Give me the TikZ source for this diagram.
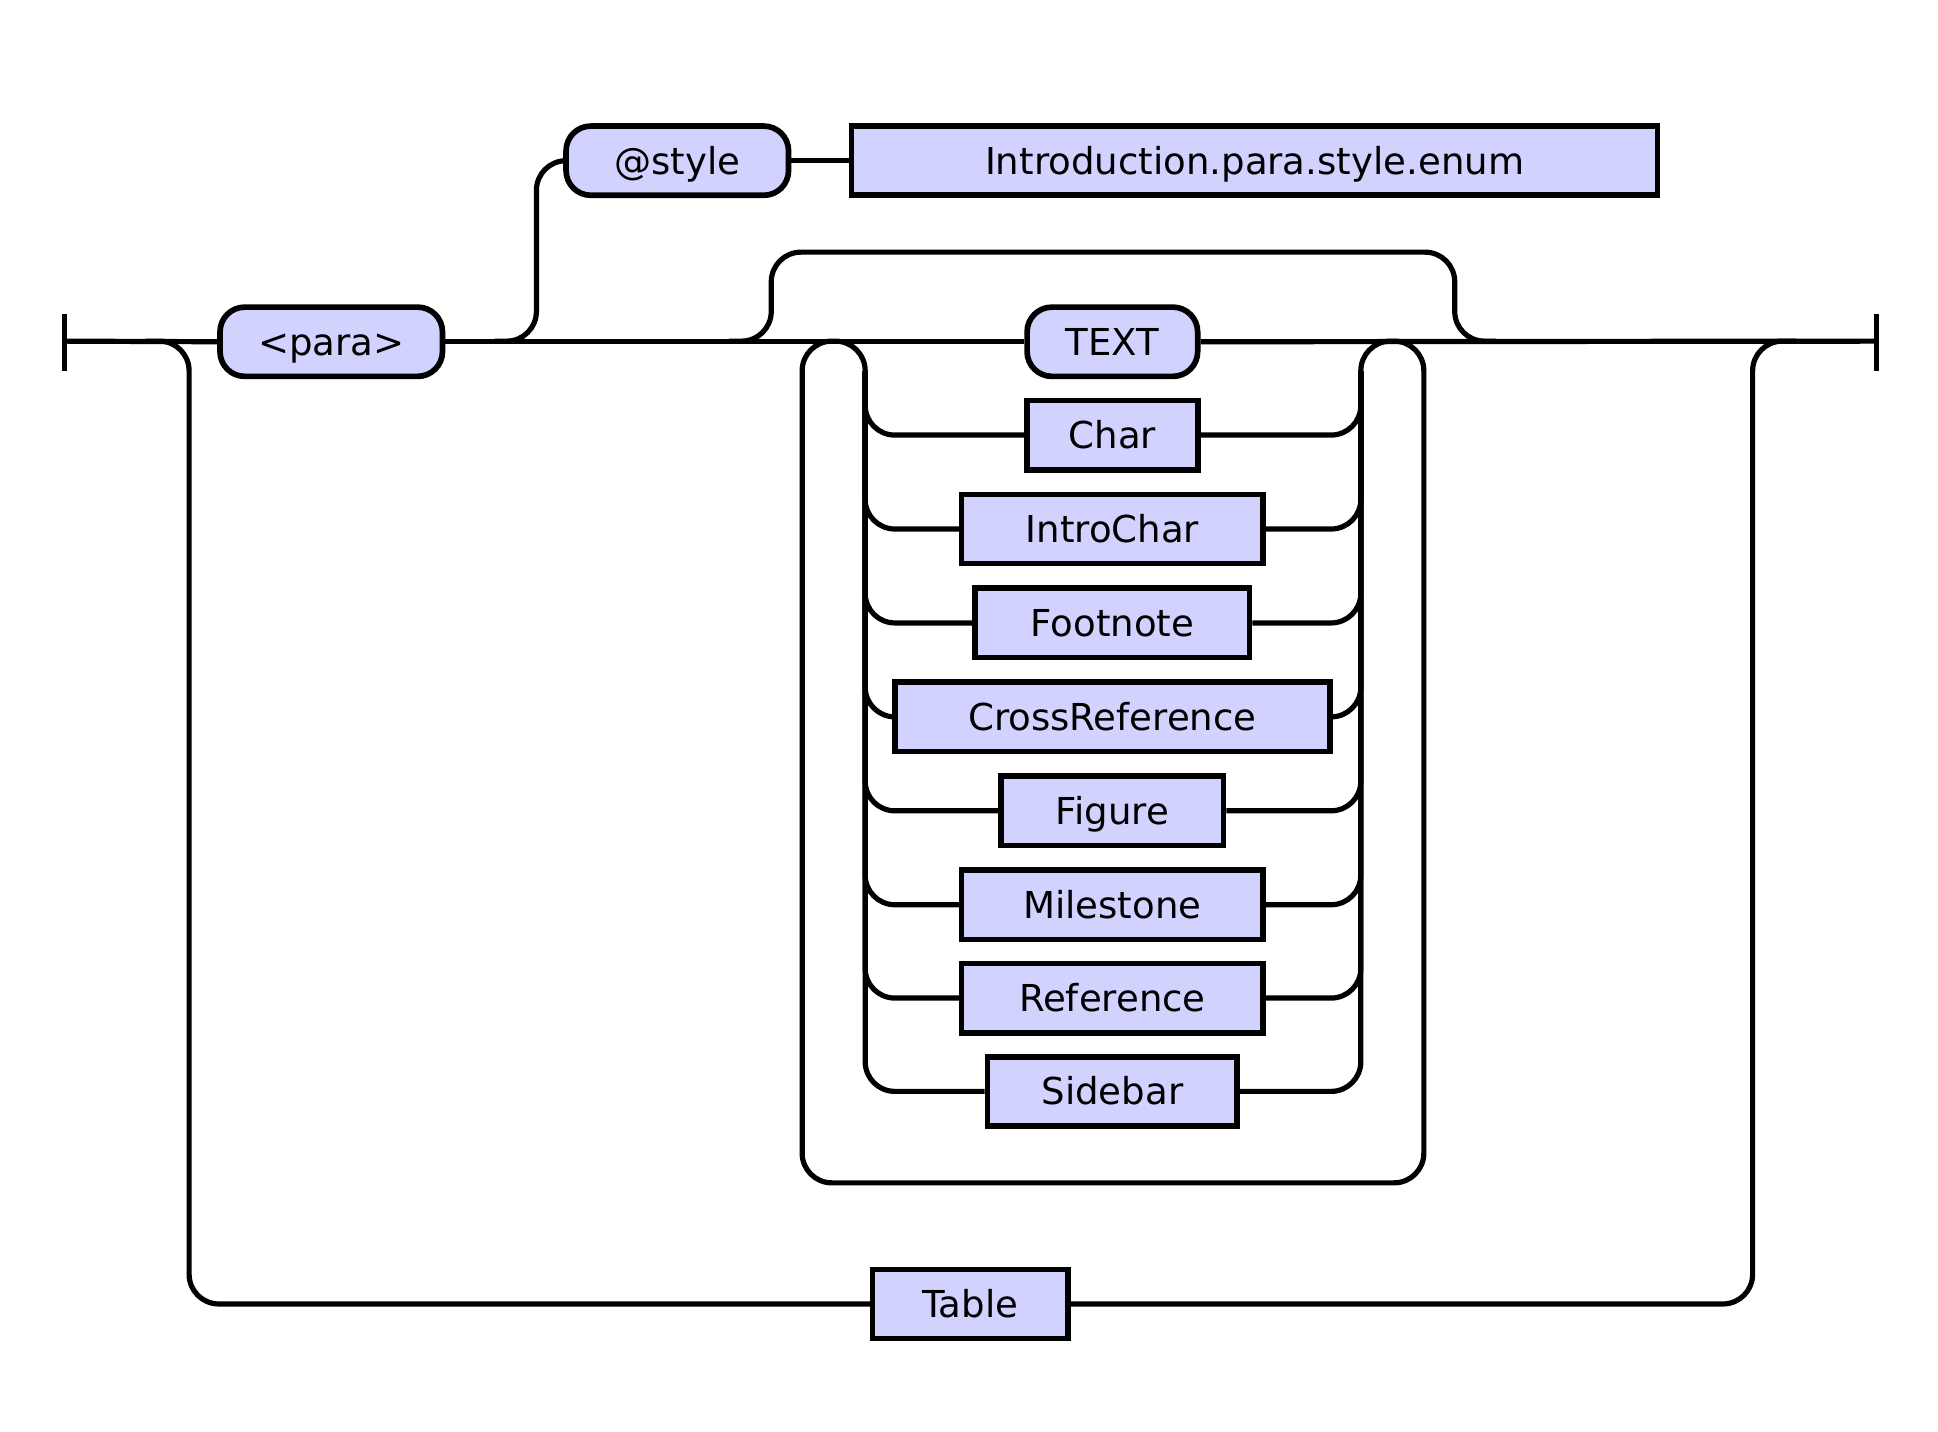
\documentclass[tikz,border=0pt]{standalone}
\usepackage{fontspec}
\setmainfont{DejaVu Sans}
\definecolor{boxfill}{RGB}{210,210,255}
\begin{document}
\begin{tikzpicture}[x=0.5pt,y=-0.5pt,
  rail/.style={line width=2.1pt, rounded corners=12pt},
  bar/.style={line width=2.1pt},
  term/.style={draw, line width=2.3pt, fill=boxfill, rounded corners=10pt, minimum height=28pt, inner sep=0pt, text height=11pt, text depth=0pt, font=\fontsize{15}{18}\selectfont},
  nonterm/.style={term, sharp corners}]
\useasboundingbox (0,0) rectangle (1568,1158);
% nodes
\node[term, minimum width=90pt] (para) at (268,276.5) {<para>};
\node[term, minimum width=90pt] (style) at (548,130) {@style};
\node[nonterm, minimum width=326pt] (intro) at (1015,130) {Introduction.para.style.enum};
\node[term, minimum width=69pt] (text) at (900,276.5) {TEXT};
\node[nonterm, minimum width=69pt] (char) at (900,352) {Char};
\node[nonterm, minimum width=122pt] (introchar) at (900,428) {IntroChar};
\node[nonterm, minimum width=111pt] (footnote) at (900,504) {Footnote};
\node[nonterm, minimum width=176pt] (crossref) at (900,580) {CrossReference};
\node[nonterm, minimum width=90pt] (figure) at (900,656) {Figure};
\node[nonterm, minimum width=122pt] (milestone) at (900,732) {Milestone};
\node[nonterm, minimum width=122pt] (reference) at (900,807.5) {Reference};
\node[nonterm, minimum width=101pt] (sidebar) at (900,883) {Sidebar};
\node[nonterm, minimum width=79pt] (table) at (785,1055) {Table};
% coordinates
\coordinate (start) at (52,276);
\coordinate (stop) at (1518,276);
\coordinate (sA) at (400,276);
\coordinate (sB) at (434,276);
\coordinate (sC) at (434,130);
\coordinate (kA) at (590,276);
\coordinate (kB) at (624,276);
\coordinate (kC) at (624,204);
\coordinate (kD) at (1177,204);
\coordinate (kE) at (1177,276);
\coordinate (kF) at (1210,276);
\coordinate (aL) at (674.5,276);
\coordinate (aR) at (1126.5,276);
\coordinate (cL) at (700,276);
\coordinate (cR) at (1101,276);
\coordinate (lL) at (649,276);
\coordinate (lR) at (1152,276);
\coordinate (lBL) at (649,957);
\coordinate (lBR) at (1152,957);
\coordinate (tA) at (118,276);
\coordinate (tB) at (153,276);
\coordinate (tC) at (153,1055);
\coordinate (tD) at (1418,1055);
\coordinate (tE) at (1418,276);
\coordinate (tF) at (1453,276);
% end bars
\draw[bar] (52,254) -- (52,300);
\draw[bar] (1518,254) -- (1518,300);
% main line
\draw[bar] (start) -- (para.west);
\draw[bar] (para.east) -- (text.west);
\draw[bar] (text.east) -- (stop);
% @style branch
\draw[rail] (sA) -- (sB) -- (sC) -- (style.west);
\draw[bar] (style.east) -- (intro.west);
% skip loop
\draw[rail] (kA) -- (kB) -- (kC) -- (kD) -- (kE) -- (kF);
% choice
\draw[rail] (aL) -- (cL) -- (700,883) -- (sidebar.west);
\draw[rail] (sidebar.east) -- (1101,883) -- (cR) -- (aR);
\foreach \n/\y in {char/352,introchar/428,footnote/504,crossref/580,figure/656,milestone/732,reference/807.5}{
  \draw[rail] (700,300) -- (700,\y) -- (\n.west);
  \draw[rail] (\n.east) -- (1101,\y) -- (1101,300);
}
% repetition loop
\draw[rail] (aL) -- (lL) -- (lBL) -- (lBR) -- (lR) -- (aR);
% table bypass
\draw[rail] (tA) -- (tB) -- (tC) -- (table.west);
\draw[rail] (table.east) -- (tD) -- (tE) -- (tF);
\end{tikzpicture}
\end{document}
